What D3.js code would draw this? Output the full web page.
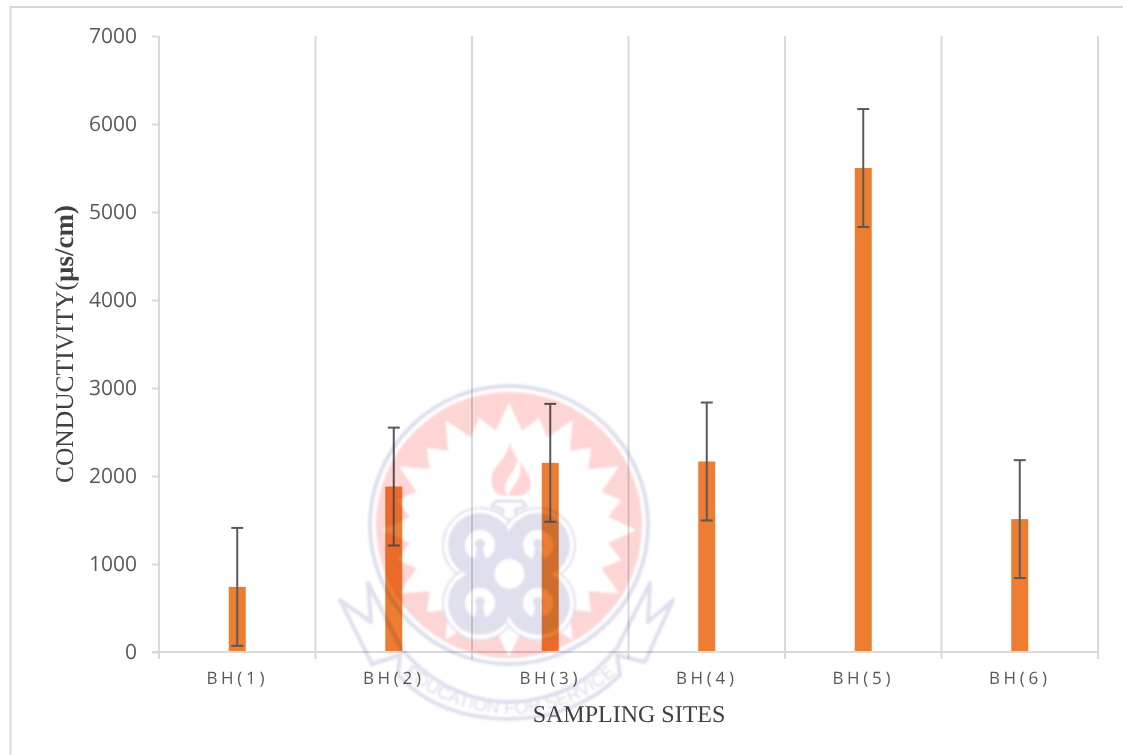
<!DOCTYPE html>
<html><head><meta charset="utf-8">
<script src="https://cdn.jsdelivr.net/npm/d3@7"></script>
<style>html,body{margin:0;background:#fff}svg{display:block}text{text-rendering:geometricPrecision}</style></head>
<body><svg id="c" width="1123" height="755"></svg>
<script>
const categories=["BH(1)","BH(2)","BH(3)","BH(4)","BH(5)","BH(6)"];
const conductivity=[740,1880,2150,2165,5500,1510];
const errorMargin=[670,670,670,670,670,670];
const yTicks=[0,1000,2000,3000,4000,5000,6000,7000];

const svg=d3.select("#c");
const gridColor="#d9d9d9", inkColor="#595959", barColor="#ed7d31";
const L=159,R=1098,T=36,B=652;
const x=d3.scaleBand().domain(categories).range([L,R]);
const y=d3.scaleLinear().domain([0,7000]).range([B,T]);

svg.append("defs").append("filter").attr("id","soft").append("feGaussianBlur").attr("stdDeviation",0.8);

// outer frame
svg.append("path").attr("d","M1123 7H10.5V755").attr("fill","none").attr("stroke",gridColor).attr("stroke-width",2);

// vertical separators
const seps=d3.range(categories.length+1).map(i=>L+i*x.bandwidth());
svg.append("g").selectAll("line").data(seps).join("line")
 .attr("x1",d=>d).attr("x2",d=>d).attr("y1",T).attr("y2",B+7)
 .attr("stroke",gridColor).attr("stroke-width",2);

// y axis
const ya=svg.append("g").attr("transform",`translate(${L},0)`)
 .call(d3.axisLeft(y).tickValues(yTicks).tickFormat(d3.format("d")).tickSize(7).tickPadding(15));
ya.select(".domain").remove();
ya.selectAll("line").attr("stroke",gridColor).attr("stroke-width",2);
ya.selectAll("text").attr("fill",inkColor).style("font-family","'Open Sans'").style("font-size","21px");

// x axis
const xa=svg.append("g").attr("transform",`translate(0,${B})`)
 .call(d3.axisBottom(x).tickSize(0).tickPadding(20));
xa.select(".domain").remove();
svg.append("line").attr("x1",L-7).attr("x2",R).attr("y1",B).attr("y2",B).attr("stroke",gridColor).attr("stroke-width",2);
xa.selectAll("text").attr("fill",inkColor).style("font-family","'Open Sans'").style("font-size","17px").style("letter-spacing","3.7px");

// bars
const barW=17;
const cx=d=>x(d)+x.bandwidth()/2;
svg.append("g").selectAll("rect").data(categories).join("rect")
 .attr("x",d=>cx(d)-barW/2).attr("width",barW)
 .attr("y",(d,i)=>y(conductivity[i])).attr("height",(d,i)=>B-y(conductivity[i])-1)
 .attr("fill",barColor);

// error bars
const eb=svg.append("g").attr("stroke",inkColor).attr("stroke-width",2).attr("fill","none");
categories.forEach((c,i)=>{
 const hi=y(conductivity[i]+errorMargin[i]),lo=y(conductivity[i]-errorMargin[i]),m=cx(c);
 eb.append("line").attr("x1",m).attr("x2",m).attr("y1",hi).attr("y2",lo);
 eb.append("line").attr("x1",m-6).attr("x2",m+6).attr("y1",hi).attr("y2",hi);
 eb.append("line").attr("x1",m-6).attr("x2",m+6).attr("y1",lo).attr("y2",lo);
});

// axis titles
svg.append("text").attr("x",629).attr("y",722).attr("text-anchor","middle")
 .style("font-family","'Liberation Serif'").style("font-size","24px").attr("fill","#404040").text("SAMPLING SITES");
const yt=svg.append("text").attr("transform","translate(73,344) rotate(-90)").attr("text-anchor","middle")
 .style("font-family","'Liberation Serif'").style("font-size","25.5px").attr("fill","#404040");
yt.append("tspan").text("CONDUCTIVITY(");
yt.append("tspan").style("font-weight","bold").style("font-size","27px").text("µs/cm)");

// watermark seal
const wm=svg.append("g").style("mix-blend-mode","multiply").attr("filter","url(#soft)");
const pink="#fdd5d5", blue="#dfdfee";
const sx=509, sy=525;
wm.append("circle").attr("cx",sx).attr("cy",sy).attr("r",139).attr("fill","none").attr("stroke",blue).attr("stroke-width",4);
wm.append("circle").attr("cx",sx).attr("cy",sy).attr("r",133).attr("fill",pink);
const spikes=d3.range(48).map(i=>[i*Math.PI/24,i%2?100:(i%4?116:127)]);
wm.append("path").attr("transform",`translate(${sx},${sy+5})`)
 .attr("d",d3.lineRadial().curve(d3.curveLinearClosed)(spikes)).attr("fill","#fff");
// flame
wm.append("path").attr("fill",pink)
 .attr("d","M510 441C512 456 522 462 528 474C535 486 529 496 517 496H508C512 484 526 478 518 458C516 474 500 480 507 496C496 497 490 488 492 476C494 464 508 458 510 441Z");
// torch cup
wm.append("path").attr("fill","none").attr("stroke",blue).attr("stroke-width",3)
 .attr("d","M496 501H522L526 506L515 510L518 520H500L503 510L492 506Z");
// four-lobed emblem
const lobes=[[480,545],[538,545],[480,603],[538,603]];
wm.append("g").selectAll("circle").data(lobes).join("circle")
 .attr("cx",d=>d[0]).attr("cy",d=>d[1]).attr("r",37).attr("fill","#fff").attr("stroke",blue).attr("stroke-width",2);
wm.append("g").selectAll("circle").data(lobes).join("circle")
 .attr("cx",d=>d[0]).attr("cy",d=>d[1]).attr("r",32).attr("fill",blue);
wm.append("rect").attr("x",480).attr("y",545).attr("width",58).attr("height",58).attr("fill",blue);
wm.append("g").selectAll("circle").data(lobes).join("circle")
 .attr("cx",d=>d[0]).attr("cy",d=>d[1]).attr("r",15).attr("fill","#fff");
wm.append("g").selectAll("path").data(lobes).join("path").attr("fill",blue)
 .attr("d",d=>`M${d[0]-2} ${d[1]}L${d[0]-6} ${d[1]+16}H${d[0]+6}L${d[0]+2} ${d[1]}Z`);
wm.append("g").selectAll("circle").data(lobes).join("circle")
 .attr("cx",d=>d[0]).attr("cy",d=>d[1]-1).attr("r",5).attr("fill",blue);
wm.append("circle").attr("cx",509.5).attr("cy",574).attr("r",15).attr("fill","#fff");
// ribbon
const ribbon="M340 600L371 622L368 583L402 650L410 658C440 690 480 702 509 702C540 702 580 690 608 658L617 648L650 583L648 622L673 600L645 662L617 655L620 675C590 705 550 719 509 719C465 719 425 705 398 675L400 655L372 664Z";
wm.append("path").attr("d",ribbon).attr("fill","#fff").attr("stroke",blue).attr("stroke-width",4).attr("stroke-linejoin","round");
wm.append("path").attr("id","arc").attr("fill","none").attr("d","M398 668A160 160 0 0 0 622 668");
wm.append("text").attr("fill","#dadaea").style("font-family","'Liberation Sans'").style("font-size","18px")
 .append("textPath").attr("href","#arc").attr("startOffset","50%").attr("text-anchor","middle").text("EDUCATION FOR SERVICE");
</script></body></html>
